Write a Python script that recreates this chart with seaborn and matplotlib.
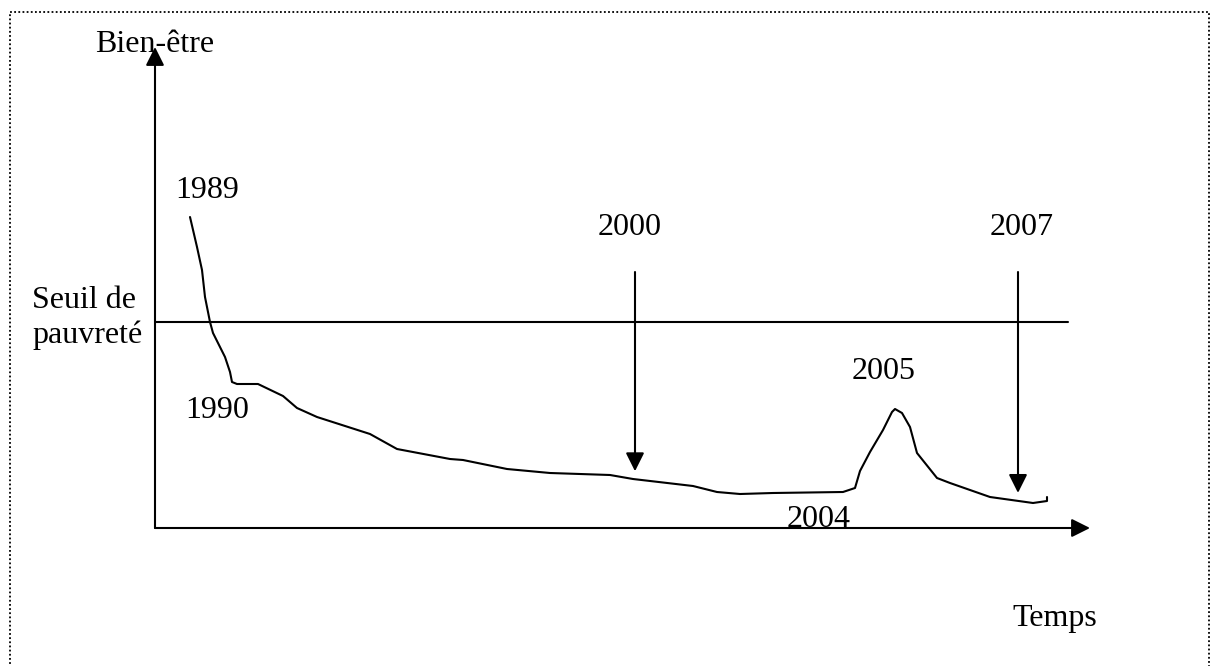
import numpy as np
import pandas as pd
import seaborn as sns
import matplotlib.pyplot as plt
from matplotlib.patches import Rectangle

# Schematic well-being curve (arbitrary units, origin at the axes corner)
temps = [35, 42, 47, 50, 55, 58, 63, 70, 75, 77, 82, 103, 128, 142, 162, 215, 242,
         295, 308, 352, 395, 455, 478, 538, 562, 585, 618, 688, 700, 705, 715, 728,
         737, 740, 747, 755, 762, 782, 795, 835, 878, 892, 892]
bien_etre = [311, 281, 258, 231, 206, 195, 185, 171, 156, 146, 144, 144, 132, 120, 111, 94, 79,
             69, 68, 59, 55, 53, 49, 42, 36, 34, 35, 36, 40, 57, 76, 98,
             116, 119, 115, 101, 75, 50, 45, 31, 25, 27, 31]

seuil_pauvrete = 206
x_max = 935
y_max = 481

# year labels: (text, x, y)
annees = ["1989", "1990", "2000", "2004", "2005", "2007"]
annees_x = [20, 30, 443, 632, 697, 835]
annees_y = [330, 110, 293, 1, 149, 293]

# years pointed at by a vertical arrow
fleches = ["2000", "2007"]
fleches_x = [480, 863]

sns.set_theme(style="white")
plt.rcParams['font.family'] = ['Liberation Serif', 'DejaVu Serif']
plt.rcParams['text.color'] = 'black'

fig = plt.figure(figsize=(12.15, 6.66), dpi=100)
ax = fig.add_axes([0, 0, 1, 1])
ax.set_xlim(-155, 1060)
ax.set_ylim(-138, 528)
ax.axis('off')

df = pd.DataFrame({"Temps": temps, "Bien-être": bien_etre})
sns.lineplot(data=df, x="Temps", y="Bien-être", ax=ax, sort=False, estimator=None,
             color="black", linewidth=1.5)

# axes with arrow heads
arrow = dict(arrowstyle='-|>', color='black', lw=1.5, mutation_scale=28,
             shrinkA=0, shrinkB=0)
ax.annotate("", xy=(0, y_max), xytext=(0, 0), arrowprops=arrow)
ax.annotate("", xy=(x_max, 0), xytext=(0, 0), arrowprops=arrow)

# poverty line
ax.plot([0, 913], [seuil_pauvrete, seuil_pauvrete], color='black', lw=1.5)

# vertical arrows
for lab, x in zip(fleches, fleches_x):
    y_curve = np.interp(x, temps, bien_etre)
    ax.annotate("", xy=(x, y_curve + 8), xytext=(x, 256), arrowprops=arrow)

fs = 23
for lab, x, y in zip(annees, annees_x, annees_y):
    ax.text(x, y, lab, fontsize=fs, ha='left', va='baseline', color='black')

ax.text(-60, 476, "Bien-être", fontsize=fs, ha='left', va='baseline', color='black')
ax.text(-123, 220, "Seuil de", fontsize=fs, ha='left', va='baseline', color='black')
ax.text(-123, 185, "pauvreté", fontsize=fs, ha='left', va='baseline', color='black')
ax.text(857, -98, "Temps", fontsize=fs, ha='left', va='baseline', color='black')

# dotted frame
fig.patches.append(Rectangle((10.5 / 1215, -0.05), (1209 - 10.5) / 1215, 1.05 - 11.5 / 666,
                             transform=fig.transFigure, fill=False, edgecolor='black',
                             lw=1.3, linestyle=(0, (1, 1.3))))

plt.savefig("out.png", dpi=100)
plt.close()
